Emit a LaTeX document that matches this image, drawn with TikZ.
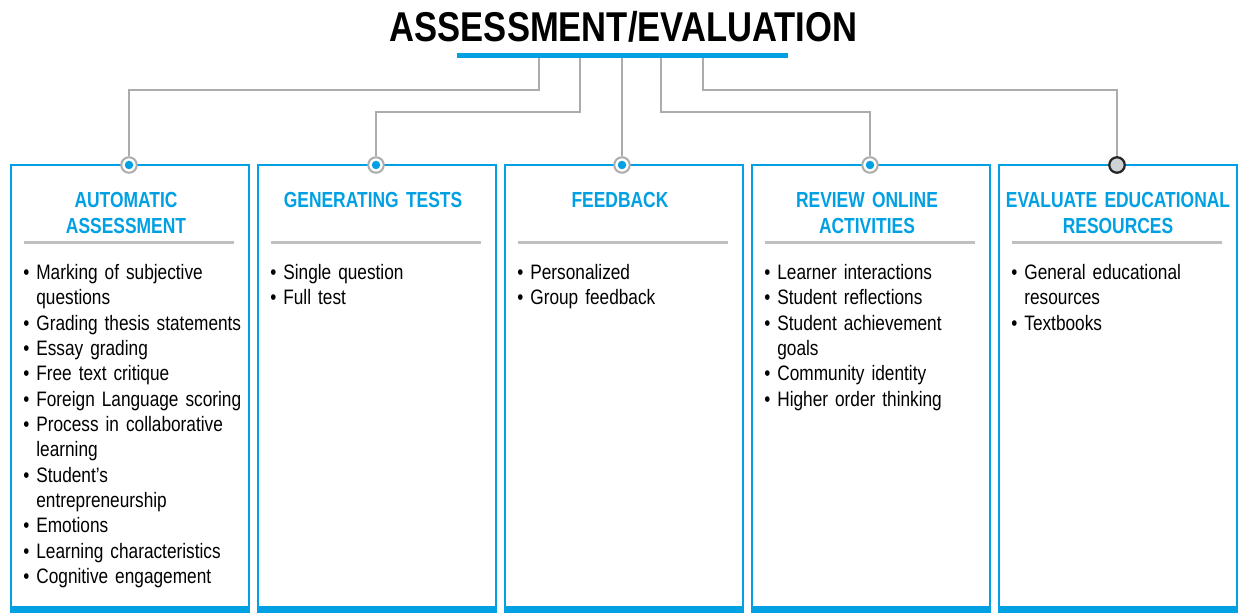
\documentclass[tikz,border=0pt]{standalone}
\usepackage{fontspec}
\setmainfont{Liberation Sans}[FakeStretch=0.825]
\newfontfamily\headfont{Liberation Sans}[FakeStretch=0.80]
\newfontfamily\titlefont{Liberation Sans}[FakeStretch=0.83]
\definecolor{lblue}{RGB}{0,160,227}
\definecolor{lgray}{RGB}{172,172,172}
\definecolor{sgray}{RGB}{192,192,192}
\newcommand\itemfont{\fontsize{11.9}{14.4}\selectfont\spaceskip=0.19em\relax}
\newcommand\boxheadfont{\headfont\bfseries\fontsize{12.4}{14.7}\selectfont\spaceskip=0.2em\relax}
\newlength\bulwd
\newcommand\bul{\par\settowidth{\bulwd}{\textbullet\ }\hangindent=\bulwd\hangafter=1\noindent\strut\textbullet\ }
\begin{document}
\begin{tikzpicture}[x=0.2mm, y=-0.2mm,
 box/.style={draw=lblue, line width=0.4mm, minimum width=47.6mm, minimum height=89mm, inner sep=0pt},
 dot/.style={circle, draw=lgray, line width=0.4mm, fill=white, minimum size=3.1mm, inner sep=0pt,
   path picture={\fill[lblue] (path picture bounding box.center) circle (0.85mm);}},
 lastdot/.style={circle, draw=black!85, line width=0.45mm, fill={rgb,255:red,205;green,210;blue,215}, minimum size=3.1mm, inner sep=0pt},
 head/.style={anchor=north, inner sep=0pt, text width=46mm, align=center, text=lblue, font=\boxheadfont},
 items/.style={anchor=north west, inner sep=0pt, text width=46mm, font=\itemfont},
 link/.style={draw=lgray, line width=0.4mm},
 sep/.style={draw=sgray, line width=0.6mm}]
\useasboundingbox (0,0) rectangle (1238,613);
% title and bar
\node[anchor=base, font=\titlefont\bfseries\fontsize{23.7}{28}\selectfont] (title) at (623.5,41.5) {ASSESSMENT/EVALUATION};
\node[fill=lblue, minimum width=66.2mm, minimum height=1mm, inner sep=0pt] (bar) at (622.5,56) {};
% boxes
\foreach \i/\x in {1/130,2/377,3/624,4/871,5/1118}{
  \node[box] (b\i) at (\x,387.5) {};
  \fill[lblue] (\x-120,606) rectangle (\x+120,613);
  \draw[sep] (\x-106,243) -- (\x+104,243);
}
\node[dot] (c1) at (129,165) {};
\node[dot] (c2) at (376,165) {};
\node[dot] (c3) at (622,165) {};
\node[dot] (c4) at (870,165) {};
\node[lastdot] (c5) at (1117,165) {};
% headings
\node[head] (h1) at (126,189) {\strut AUTOMATIC\\ASSESSMENT};
\node[head] (h2) at (373,189) {\strut GENERATING TESTS};
\node[head] (h3) at (620,189) {\strut FEEDBACK};
\node[head] (h4) at (867,189) {\strut REVIEW ONLINE\\ACTIVITIES};
\node[head] (h5) at (1118,189) {\strut EVALUATE EDUCATIONAL\\RESOURCES};
% lists
\node[items] (l1) at (23,254) {\bul Marking of subjective\newline questions
 \bul Grading thesis statements \bul Essay grading \bul Free text critique
 \bul Foreign Language scoring \bul Process in collaborative\newline learning
 \bul Student’s\newline entrepreneurship \bul Emotions
 \bul Learning characteristics \bul Cognitive engagement};
\node[items] (l2) at (270,254) {\bul Single question \bul Full test};
\node[items] (l3) at (517,254) {\bul Personalized \bul Group feedback};
\node[items] (l4) at (764,254) {\bul Learner interactions \bul Student reflections
 \bul Student achievement\newline goals \bul Community identity \bul Higher order thinking};
\node[items] (l5) at (1011,254) {\bul General educational\newline resources \bul Textbooks};
% connectors
\coordinate (t1) at (539,58);
\coordinate (t2) at (580,58);
\coordinate (t3) at (622,58);
\coordinate (t4) at (661,58);
\coordinate (t5) at (703,58);
\draw[link] (t1) -- ++(0,32) -| (c1);
\draw[link] (t2) -- ++(0,54) -| (c2);
\draw[link] (t3) -- (c3);
\draw[link] (t4) -- ++(0,54) -| (c4);
\draw[link] (t5) -- ++(0,32) -| (c5);
\end{tikzpicture}
\end{document}
